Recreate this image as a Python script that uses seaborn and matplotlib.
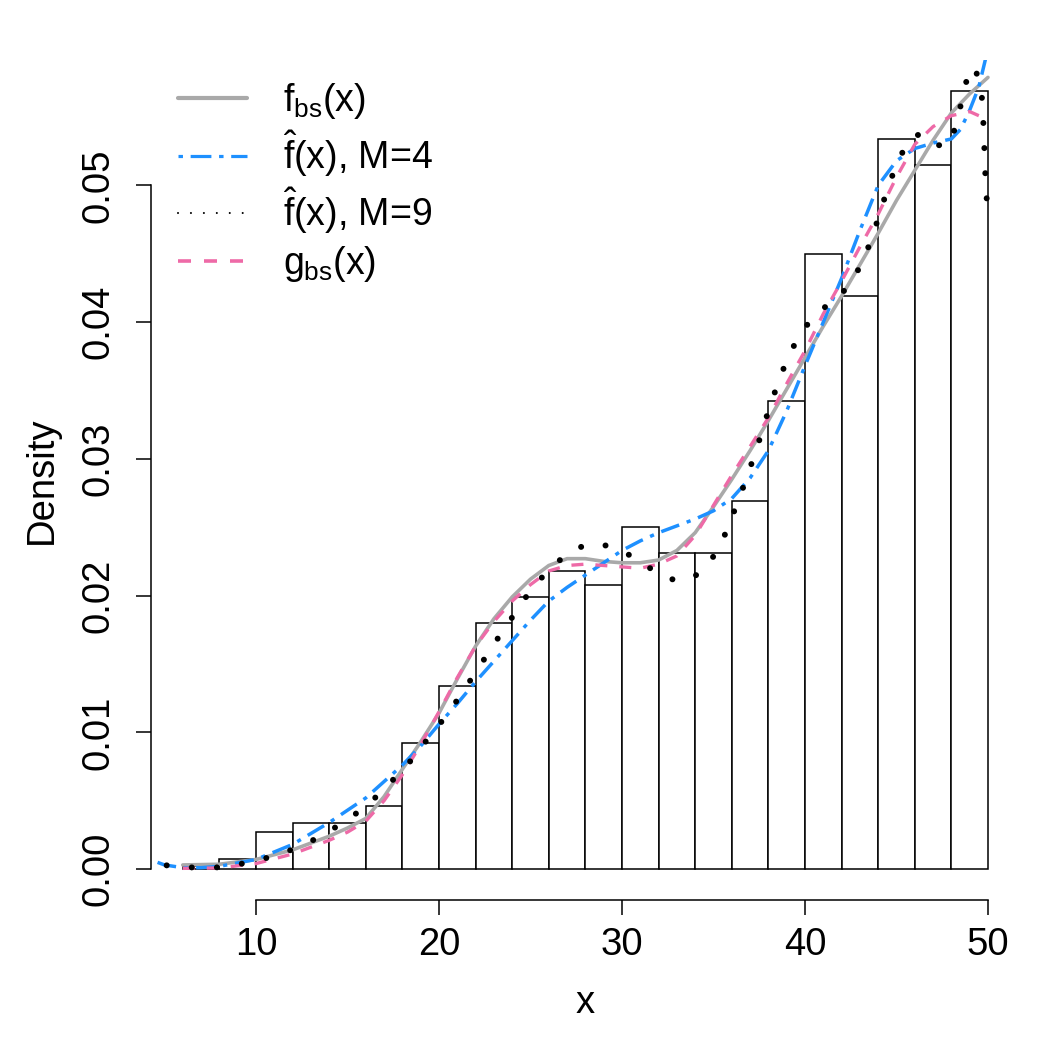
import matplotlib
matplotlib.use("Agg")
import matplotlib.pyplot as plt
from matplotlib.lines import Line2D
import seaborn as sns

# ---------------- data ----------------
bin_edges = [6, 8, 10, 12, 14, 16, 18, 20, 22, 24, 26, 28, 30, 32, 34, 36, 38, 40, 42, 44, 46, 48, 50]
bin_density = [0.0002, 0.0007, 0.0027, 0.0034, 0.0034, 0.0046, 0.0092, 0.0134, 0.0180, 0.0199,
               0.0218, 0.0208, 0.0250, 0.0231, 0.0231, 0.0269, 0.0342, 0.0450, 0.0419, 0.0534,
               0.0515, 0.0569]
bin_mids = [(a + b) / 2 for a, b in zip(bin_edges[:-1], bin_edges[1:])]

fbs_x = [6, 8, 10, 12, 14, 15, 16, 17, 18, 19, 20, 21, 22, 23, 24, 25, 26, 27, 28, 29, 30, 31,
         32, 33, 34, 35, 36, 37, 38, 39, 40, 41, 42, 43, 44, 45, 46, 47, 48, 49, 50]
fbs_y = [0.0003, 0.00035, 0.0007, 0.0014, 0.0024, 0.0030, 0.0037, 0.0053, 0.0073, 0.0093, 0.0114,
         0.0139, 0.0163, 0.0183, 0.0199, 0.0212, 0.0222, 0.0227, 0.0227, 0.0225, 0.0224, 0.0224,
         0.0226, 0.0233, 0.0246, 0.0265, 0.0285, 0.0306, 0.0328, 0.0351, 0.0374, 0.0397, 0.0419,
         0.0442, 0.0465, 0.0489, 0.0511, 0.0533, 0.0553, 0.0567, 0.0579]

m4_x = [4.0, 5, 6, 7, 8, 10, 12, 14, 16, 18, 19, 20, 21, 22, 23, 24, 25, 26, 27, 28, 29, 30, 31,
        32, 33, 34, 35, 36, 37, 38, 39, 40, 41, 42, 43, 44, 45, 46, 47, 48, 48.5, 49, 49.5, 49.75, 50]
m4_y = [0.0008, 0.0003, 0.0001, 0.0001, 0.0002, 0.0007, 0.0018, 0.0034, 0.0052, 0.0076, 0.0090,
        0.0106, 0.0121, 0.0137, 0.0152, 0.0167, 0.0182, 0.0196, 0.0206, 0.0215, 0.0224, 0.0233,
        0.0240, 0.0246, 0.0251, 0.0256, 0.0262, 0.0271, 0.0286, 0.0306, 0.0335, 0.0368, 0.0400,
        0.0432, 0.0467, 0.0500, 0.0518, 0.0527, 0.0531, 0.0534, 0.0541, 0.0555, 0.0572, 0.0586, 0.0600]

m9_x = [5.12, 6.49, 7.85, 9.22, 10.55, 11.86, 13.1, 14.28, 15.41, 16.5, 17.47, 18.38, 19.23, 20.09,
        20.89, 21.66, 22.4, 23.15, 23.92, 24.68, 25.54, 26.5, 27.63, 28.3, 28.95, 30.23, 31.37, 32.57,
        33.2, 33.88, 34.85, 35.52, 36.03, 36.52, 36.98, 37.42, 37.81, 38.25, 38.7, 39.23, 39.89,
        40.82, 41.91, 42.73, 43.33, 43.79, 44.21, 44.63, 45.08, 45.77, 46.2, 46.92, 47.92, 48.31,
        48.62, 48.89, 49.2, 49.6, 49.71, 49.77, 49.82, 49.87, 49.96, 50.0]
m9_y = [0.00027, 0.00012, 0.00012, 0.00039, 0.0008, 0.00137, 0.0021, 0.0030, 0.0040, 0.0052, 0.0065,
        0.0078, 0.00925, 0.01069, 0.01215, 0.01369, 0.0152, 0.01674, 0.01825, 0.01977, 0.02121,
        0.0225, 0.0235, 0.0238, 0.02374, 0.02311, 0.02213, 0.02123, 0.0211, 0.02128, 0.02253,
        0.02411, 0.02582, 0.02753, 0.02926, 0.03099, 0.03272, 0.03448, 0.03619, 0.03787, 0.03946,
        0.04083, 0.0419, 0.04334, 0.0450, 0.0467, 0.0485, 0.0502, 0.0518, 0.0535, 0.0537, 0.0529,
        0.0530, 0.0547, 0.0565, 0.0580, 0.0587, 0.05756, 0.0557, 0.0539, 0.0521, 0.0503, 0.0484, 0.0478]

gbs_x = [6, 8, 10, 12, 14, 15, 16, 17, 18, 19, 20, 21, 22, 23, 24, 25, 26, 27, 28, 29, 30, 31,
         32, 33, 34, 35, 36, 37, 38, 39, 40, 41, 42, 43, 44, 45, 46, 47, 48, 49, 49.5]
gbs_y = [0.00005, 0.00008, 0.0004, 0.0011, 0.0021, 0.0027, 0.0035, 0.0050, 0.0069, 0.0091, 0.0115,
         0.0140, 0.0163, 0.0181, 0.0196, 0.0208, 0.0218, 0.0222, 0.0223, 0.0222, 0.0221, 0.0220,
         0.0223, 0.0229, 0.0244, 0.0266, 0.0288, 0.0309, 0.0330, 0.0355, 0.0379, 0.0406, 0.0430,
         0.0455, 0.0479, 0.0506, 0.0530, 0.0543, 0.0551, 0.0554, 0.0551]

x_ticks = [10, 20, 30, 40, 50]
y_ticks = [0.00, 0.01, 0.02, 0.03, 0.04, 0.05]
y_ticklabels = ["0.00", "0.01", "0.02", "0.03", "0.04", "0.05"]
legend_labels = [r"$f_{bs}(x)$", r"$\hat{f}(x)$, M=4", r"$\hat{f}(x)$, M=9", r"$g_{bs}(x)$"]

# ---------------- style ----------------
sns.set_theme(style="white")
plt.rcParams["font.family"] = ["Liberation Sans", "DejaVu Sans"]
plt.rcParams["mathtext.fontset"] = "custom"
plt.rcParams["mathtext.rm"] = "Liberation Sans"
plt.rcParams["mathtext.it"] = "Liberation Sans"
plt.rcParams["mathtext.bf"] = "Liberation Sans:bold"
plt.rcParams["text.color"] = "black"

GRAY = "#A9A9A9"
BLUE = "#1E90FF"
PINK = "#EE6AA7"

fig = plt.figure(figsize=(10.5, 10.5), dpi=100)
ax = fig.add_axes([0.1434, 0.1427, 0.8282, 0.8002])

sns.histplot(x=bin_mids, weights=bin_density, bins=bin_edges, stat="count",
             color="white", edgecolor="black", linewidth=1.1, alpha=1, ax=ax, zorder=1)

sns.lineplot(x=fbs_x, y=fbs_y, color=GRAY, linewidth=2.6, sort=False, estimator=None,
             ax=ax, zorder=3)
sns.lineplot(x=m4_x, y=m4_y, color=BLUE, linewidth=2.5, sort=False, estimator=None,
             linestyle=(0, (1.2, 2.3, 5.5, 2.3)), ax=ax, zorder=4)
sns.lineplot(x=m9_x, y=m9_y, color="black", linewidth=4.3, sort=False, estimator=None,
             linestyle=(0, (0.01, 4.2)), dash_capstyle="round", ax=ax, zorder=5)
sns.lineplot(x=gbs_x, y=gbs_y, color=PINK, linewidth=2.4, sort=False, estimator=None,
             linestyle=(0, (3.6, 3.6)), ax=ax, zorder=4)

ax.set_xlim(4.24, 51.76)
ax.set_ylim(-0.002276, 0.059176)

ax.set_xticks(x_ticks)
ax.set_xticklabels([str(t) for t in x_ticks])
ax.set_yticks(y_ticks)
ax.set_yticklabels(y_ticklabels, rotation=90, va="center")

ax.tick_params(axis="both", which="major", bottom=True, left=True, length=10.8, width=1.1,
               color="black", labelcolor="black", labelsize=27.5, direction="out")
ax.tick_params(axis="x", pad=8.6)
ax.tick_params(axis="y", pad=14)

for s in ["top", "right"]:
    ax.spines[s].set_visible(False)
for s in ["left", "bottom"]:
    ax.spines[s].set_color("black")
    ax.spines[s].set_linewidth(1.1)
ax.spines["left"].set_bounds(0, 0.05)
ax.spines["bottom"].set_bounds(10, 50)

ax.set_xlabel("x", fontsize=27.5, color="black")
ax.set_ylabel("Density", fontsize=27.5, color="black")
ax.xaxis.set_label_coords(0.5, -0.1225)
ax.xaxis.label.set_verticalalignment("center")
ax.yaxis.set_label_coords(-0.1249, 0.5)
ax.yaxis.label.set_verticalalignment("center")

handles = [
    Line2D([], [], color=GRAY, lw=3.0),
    Line2D([], [], color=BLUE, lw=2.3, linestyle=(0, (1.4, 2.4, 6.5, 2.4))),
    Line2D([], [], color="black", lw=1.5, linestyle=(0, (0.01, 6.2)), dash_capstyle="round"),
    Line2D([], [], color=PINK, lw=2.6, linestyle=(0, (3.6, 3.6))),
]
ax.legend(handles, legend_labels, loc="upper left", bbox_to_anchor=(0.031, 0.975),
          frameon=False, fontsize=27, handlelength=1.85, handletextpad=0.95,
          labelspacing=0.2, borderpad=0, borderaxespad=0, labelcolor="black")

fig.savefig("out.png", dpi=100)
